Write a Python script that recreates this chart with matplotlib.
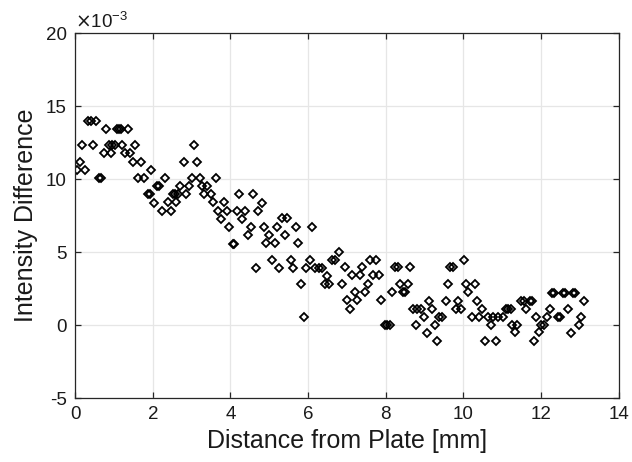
import matplotlib
matplotlib.use("Agg")
import matplotlib.pyplot as plt
import numpy as np

plt.rcParams['font.family'] = ['Liberation Sans', 'DejaVu Sans']

# distance from plate [mm]
distance = [
    0.04, 0.12, 0.18, 0.26, 0.33, 0.41, 0.45, 0.53, 0.62, 0.67,
    0.75, 0.80, 0.88, 0.93, 0.96, 1.03, 1.07, 1.14, 1.18, 1.20,
    1.27, 1.35, 1.42, 1.49, 1.55, 1.63, 1.69, 1.76, 1.87, 1.92,
    1.96, 2.03, 2.10, 2.16, 2.23, 2.30, 2.39, 2.46, 2.52, 2.58,
    2.59, 2.66, 2.71, 2.79, 2.86, 2.93, 3.01, 3.06, 3.14, 3.21,
    3.27, 3.33, 3.40, 3.49, 3.56, 3.63, 3.68, 3.76, 3.83, 3.91,
    3.96, 4.06, 4.10, 4.16, 4.23, 4.30, 4.38, 4.44, 4.52, 4.57,
    4.65, 4.71, 4.80, 4.86, 4.92, 4.99, 5.06, 5.14, 5.20, 5.26,
    5.32, 5.40, 5.46, 5.55, 5.61, 5.68, 5.74, 5.82, 5.89, 5.95,
    6.04, 6.09, 6.17, 6.28, 6.36, 6.43, 6.49, 6.53, 6.62, 6.69,
    6.80, 6.86, 6.95, 6.99, 7.07, 7.12, 7.20, 7.27, 7.33, 7.40,
    7.46, 7.55, 7.59, 7.67, 7.74, 7.83, 7.87, 7.98, 8.04, 8.10,
    8.16, 8.25, 8.32, 8.36, 8.44, 8.50, 8.58, 8.62, 8.71, 8.79,
    8.81, 8.90, 8.99, 9.05, 9.12, 9.20, 9.26, 9.32, 9.37, 9.46,
    9.55, 9.61, 9.66, 9.72, 9.80, 9.87, 9.93, 10.02, 10.06, 10.13,
    10.21, 10.30, 10.36, 10.40, 10.49, 10.56, 10.62, 10.71, 10.75, 10.83,
    10.88, 11.02, 11.09, 11.16, 11.23, 11.26, 11.32, 11.38, 11.49, 11.55,
    11.60, 11.72, 11.76, 11.82, 11.86, 11.95, 12.01, 12.07, 12.15, 12.22,
    12.28, 12.34, 12.44, 12.49, 12.56, 12.62, 12.70, 12.77, 12.82, 12.88,
    12.97, 13.02, 13.10,
]

# intensity difference (x 1e-3)
intensity_e3 = [
    10.64, 11.20, 12.35, 10.64, 14.00, 14.00, 12.35, 14.00, 10.07, 10.07,
    11.78, 13.42, 12.35, 11.78, 12.35, 12.35, 13.42, 13.42, 13.42, 12.35,
    11.78, 13.42, 11.78, 11.20, 12.35, 10.07, 11.20, 10.07, 8.97, 8.97,
    10.64, 8.40, 9.54, 9.54, 7.85, 10.07, 8.42, 7.85, 8.99, 8.99,
    8.42, 8.99, 9.54, 11.20, 8.99, 9.54, 10.07, 12.35, 11.20, 10.07,
    9.54, 8.99, 9.54, 8.99, 8.42, 10.07, 7.85, 7.28, 8.42, 7.85,
    6.71, 5.57, 5.57, 7.85, 8.97, 7.28, 7.85, 6.14, 6.75, 8.97,
    3.90, 7.85, 8.40, 6.75, 5.62, 6.18, 4.47, 5.62, 6.75, 3.90,
    7.33, 6.18, 7.33, 4.47, 3.90, 6.75, 5.62, 2.81, 0.55, 3.90,
    4.47, 6.75, 3.90, 3.90, 3.90, 2.81, 3.38, 2.81, 4.47, 4.47,
    5.04, 2.83, 3.97, 1.69, 1.12, 3.40, 2.26, 1.69, 3.40, 3.97,
    2.26, 2.83, 4.47, 3.40, 4.47, 3.40, 1.69, 0.00, 0.00, 0.00,
    2.26, 3.97, 3.97, 2.83, 2.26, 2.26, 2.83, 3.97, 1.12, 0.00,
    1.12, 1.12, 0.52, -0.55, 1.66, 1.10, 0.00, -1.12, 0.52, 0.52,
    1.66, 2.81, 3.97, 3.97, 1.10, 1.66, 1.10, 4.43, 2.81, 2.24,
    0.52, 2.81, 1.66, 0.52, 1.10, -1.12, 0.52, 0.00, 0.52, -1.12,
    0.52, 0.52, 1.12, 1.12, 1.12, 0.00, -0.50, 0.00, 1.66, 1.66,
    1.12, 1.66, 1.66, -1.10, 0.55, -0.50, 0.00, 0.00, 0.55, 1.12,
    2.19, 2.19, 0.55, 0.55, 2.19, 2.19, 1.12, -0.55, 2.19, 2.19,
    0.00, 0.55, 1.66,
]

x_ticks = [0, 2, 4, 6, 8, 10, 12, 14]
y_ticks_e3 = [-5, 0, 5, 10, 15, 20]

x = np.array(distance)
y = np.array(intensity_e3) * 1e-3

fig = plt.figure(figsize=(6.32, 4.62), dpi=100)
ax = fig.add_axes([0.119, 0.1385, 0.860, 0.7895])

ax.plot(x, y, linestyle='none', marker='D', markersize=3.8,
        markerfacecolor='none', markeredgecolor='black', markeredgewidth=1.3)

ax.set_xlim(0, 14)
ax.set_ylim(-5e-3, 20e-3)
ax.set_xticks(x_ticks)
ax.set_yticks([v * 1e-3 for v in y_ticks_e3])
ax.set_xticklabels([str(v) for v in x_ticks])
ax.set_yticklabels([str(v) for v in y_ticks_e3])

ax.grid(True, color='#e6e6e6', linewidth=0.9)
ax.set_axisbelow(True)

axis_color = '#262626'
for s in ax.spines.values():
    s.set_color(axis_color)
    s.set_linewidth(0.9)
ax.tick_params(direction='in', length=4, width=0.9, colors=axis_color,
               labelsize=13.5, top=True, right=True, pad=6)
for lbl in ax.get_xticklabels() + ax.get_yticklabels():
    lbl.set_color('#1a1a1a')

ax.set_xlabel('Distance from Plate [mm]', fontsize=18, labelpad=4, color='#1a1a1a')
ax.set_ylabel('Intensity Difference', fontsize=18, labelpad=6, color='#1a1a1a')

ax.text(0.0, 1.004, r'$\times$10$^{\mathregular{-3}}$', transform=ax.transAxes,
        fontsize=13.5, ha='left', va='bottom', color='#1a1a1a')

fig.savefig('out.png', dpi=100)
